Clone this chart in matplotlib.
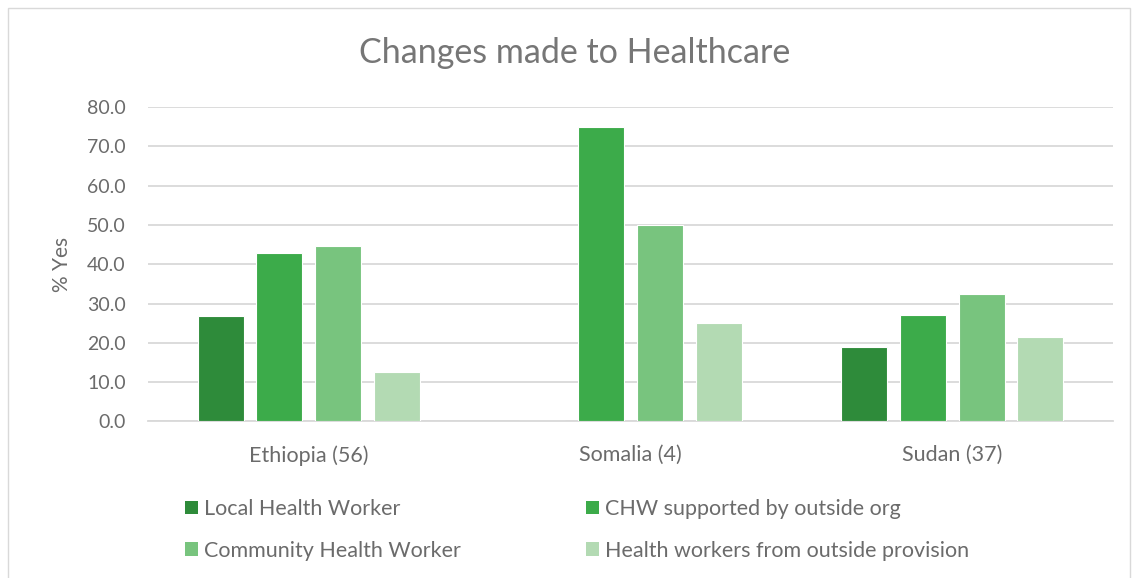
import numpy as np
import matplotlib.pyplot as plt
from matplotlib.patches import Rectangle, Patch

# DATA

countries = ['Ethiopia (56)', 'Somalia (4)', 'Sudan (37)']
series = ['Local Health Worker', 'CHW supported by outside org',
          'Community Health Worker', 'Health workers from outside provision']
local_hw = [26.8, 0.0, 18.9]
chw_outside = [42.9, 75.0, 27.0]
community_hw = [44.6, 50.0, 32.4]
outside_prov = [12.5, 25.0, 21.6]
yticks = np.arange(0, 81, 10)

colors = ['#2e8b3a', '#3cab4a', '#78c47e', '#b3dab3']
txt = '#6b6b6b'

plt.rcParams['font.family'] = ['Lato', 'DejaVu Sans']

fig = plt.figure(figsize=(11.34, 5.78), dpi=100)
ax = fig.add_axes([0.1305, 0.2708, 0.851, 0.5441])

# outer chart border
fig.patches.append(Rectangle((8/1134, -0.01), 1122/1134, 1 - 8/578 + 0.01,
                             transform=fig.transFigure, fill=False,
                             edgecolor='#d9d9d9', lw=1))

x = np.arange(len(countries))
width = 0.143
step = 0.1825
values = [local_hw, chw_outside, community_hw, outside_prov]
handles = []
for i, (vals, c) in enumerate(zip(values, colors)):
    off = (i - 1.5) * step
    ax.bar(x + off, vals, width, color=c, edgecolor='white', linewidth=0.8, zorder=3)
    handles.append(Patch(facecolor=c, edgecolor='none'))

ax.set_xlim(-0.5, 2.5)
ax.set_ylim(0, 80)
ax.set_yticks(yticks)
ax.set_yticklabels([f'{v:.1f}' for v in yticks])
ax.set_xticks(x)
ax.set_xticklabels(countries)
ax.grid(axis='y', color='#d9d9d9', lw=1.3, zorder=0)
ax.set_axisbelow(True)
for s in ['top', 'right', 'left']:
    ax.spines[s].set_visible(False)
ax.spines['bottom'].set_color('#d9d9d9')
ax.spines['bottom'].set_linewidth(1.3)
ax.tick_params(axis='y', length=0, colors=txt, labelsize=14, pad=16)
ax.tick_params(axis='x', length=0, colors=txt, labelsize=15.5, pad=17)
ax.set_ylabel('% Yes', color=txt, fontsize=15, labelpad=11)

fig.text(0.507, 0.908, 'Changes made to Healthcare', ha='center', va='center',
         fontsize=24.5, color='#767676')

order = [0, 2, 1, 3]
leg = fig.legend([handles[i] for i in order], [series[i] for i in order],
                 loc='upper left', bbox_to_anchor=(0.146, 0.17), ncol=2,
                 frameon=False, fontsize=15.5, handlelength=0.6, handleheight=0.6,
                 handletextpad=0.3, columnspacing=5.8, labelspacing=1.0)
for t in leg.get_texts():
    t.set_color(txt)

fig.savefig('out.png', dpi=100)
